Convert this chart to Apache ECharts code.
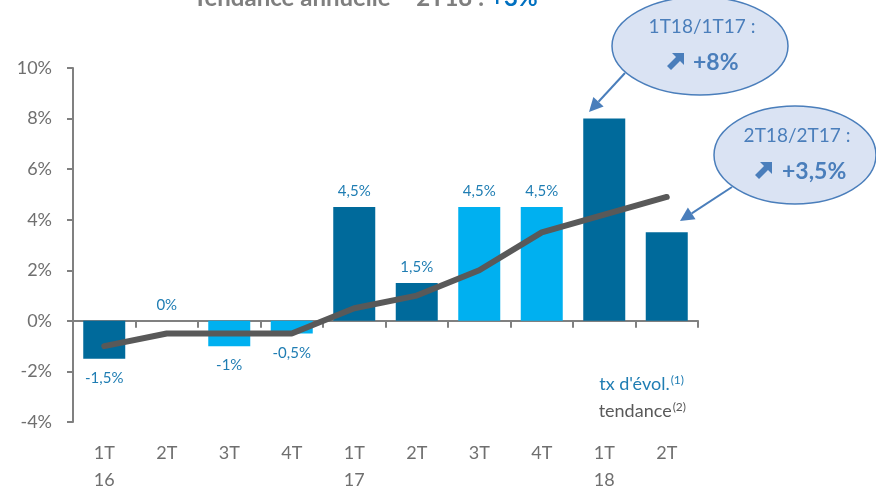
<!DOCTYPE html>
<html lang="fr">
<head>
  <meta charset="UTF-8">
  <title>tendance</title>
  <script src="https://cdn.jsdelivr.net/npm/echarts@6/dist/echarts.min.js"></script>
  <style>
    html, body { margin: 0; padding: 0; background: #fff; }
    #chart { width: 876px; height: 488px; }
  </style>
</head>
<body>
  <div id="chart"></div>
  <script>
    // trimestres
    var quarters = ['1T16', '2T16', '3T16', '4T16', '1T17', '2T17', '3T17', '4T17', '1T18', '2T18'];
    // tx d'évol. (%)
    var evolution = [-1.5, 0, -1, -0.5, 4.5, 1.5, 4.5, 4.5, 8, 3.5];
    // tendance (%)
    var tendance = [-1, -0.5, -0.5, -0.5, 0.5, 1, 2, 3.5, 4.2, 4.9];
    // teinte de chaque barre
    var tone = ['dark', 'dark', 'light', 'light', 'dark', 'dark', 'light', 'light', 'dark', 'dark'];
    // barres avec étiquette
    var labelled = [true, true, true, true, true, true, true, true, false, false];
    var yTicks = [-4, -2, 0, 2, 4, 6, 8, 10];

    var DARK = '#006a9b';
    var LIGHT = '#00b0f0';
    var LABEL = '#1f7db3';
    var GREY = '#6f6f6f';
    var CALLOUT = '#4a7ebb';
    var FONT = 'Lato, "Open Sans", sans-serif';

    function pct(v) {
      return String(v).replace('.', ',') + '%';
    }

    var barData = evolution.map(function (v, i) {
      return {
        value: v,
        itemStyle: { color: tone[i] === 'dark' ? DARK : LIGHT },
        label: {
          show: labelled[i],
          position: v < 0 ? 'bottom' : 'top',
          distance: v < 0 ? 12 : 8
        }
      };
    });

    // flèche d'une bulle vers sa barre
    function arrow(x1, y1, x2, y2) {
      var dx = x2 - x1, dy = y2 - y1;
      var len = Math.sqrt(dx * dx + dy * dy);
      var ux = dx / len, uy = dy / len;
      var bx = x2 - ux * 14, by = y2 - uy * 14;
      return [{
        type: 'line',
        shape: { x1: x1, y1: y1, x2: bx, y2: by },
        style: { stroke: CALLOUT, lineWidth: 2 }
      }, {
        type: 'polygon',
        shape: { points: [[x2, y2], [bx - uy * 7, by + ux * 7], [bx + uy * 7, by - ux * 7]] },
        style: { fill: CALLOUT }
      }];
    }

    // petite flèche épaisse vers le haut à droite
    function upIcon(x, y) {
      var s = 9;
      return {
        type: 'polygon',
        shape: {
          points: [
            [x + s, y - s], [x + s, y + 3], [x + 5, y - 1], [x - 4, y + 8],
            [x - 8, y + 4], [x + 1, y - 5], [x - 3, y - s]
          ]
        },
        style: { fill: CALLOUT }
      };
    }

    function bubble(cx, cy, rx, ry, head, value, iconX, valueX) {
      return [{
        type: 'ellipse',
        shape: { cx: cx, cy: cy, rx: rx, ry: ry },
        style: { fill: '#dae3f3', stroke: CALLOUT, lineWidth: 1.5 }
      }, {
        type: 'text',
        style: {
          x: cx + 2, y: cy - 19, text: head, align: 'center', verticalAlign: 'middle',
          font: '19px ' + FONT, fill: CALLOUT
        }
      }, upIcon(iconX, cy + 16), {
        type: 'text',
        style: {
          x: valueX, y: cy + 17, text: value, align: 'left', verticalAlign: 'middle',
          font: 'bold 23px ' + FONT, fill: CALLOUT
        }
      }];
    }

    var graphics = []
      .concat(bubble(700, 46, 88, 49, '1T18/1T17 :', '+8%', 675, 693))
      .concat(arrow(625, 73, 589, 112))
      .concat(bubble(795, 155, 81, 49, '2T18/2T17 :', '+3,5%', 763, 782))
      .concat(arrow(732, 187, 680, 221))
      .concat([{
        type: 'text',
        style: {
          x: 193, y: 10, verticalAlign: 'bottom',
          text: '{t|Tendance annuelle – 2T18 : }{b|+3%}',
          rich: {
            t: { fontSize: 24, fontWeight: 'bold', fontFamily: FONT, fill: '#7f7f7f' },
            b: { fontSize: 24, fontWeight: 'bold', fontFamily: FONT, fill: '#0070c0' }
          }
        }
      }, {
        type: 'text',
        style: {
          x: 684, y: 384, align: 'right', verticalAlign: 'middle',
          text: "{a|tx d'évol.}{s|(1)}",
          rich: {
            a: { fontSize: 18, fontFamily: FONT, fill: LABEL },
            s: { fontSize: 12, fontFamily: FONT, fill: LABEL, verticalAlign: 'top', padding: [0, 0, 8, 1] }
          }
        }
      }, {
        type: 'text',
        style: {
          x: 686, y: 411, align: 'right', verticalAlign: 'middle',
          text: '{a|tendance}{s|(2)}',
          rich: {
            a: { fontSize: 18, fontFamily: FONT, fill: '#595959' },
            s: { fontSize: 12, fontFamily: FONT, fill: '#595959', verticalAlign: 'top', padding: [0, 0, 8, 1] }
          }
        }
      }]);

    var option = {
      animation: false,
      textStyle: { fontFamily: FONT },
      grid: { left: 73, right: 178, top: 68, bottom: 66, containLabel: false, outerBoundsMode: 'none' },
      xAxis: [{
        // axe au zéro : ligne et graduations
        type: 'category',
        data: quarters,
        boundaryGap: true,
        axisLine: { onZero: true, lineStyle: { color: '#808080', width: 2 } },
        axisTick: { show: true, length: 7, lineStyle: { color: '#808080', width: 2 } },
        axisLabel: { show: false }
      }, {
        // libellés en bas
        type: 'category',
        data: quarters,
        position: 'bottom',
        boundaryGap: true,
        axisLine: { show: false, onZero: false },
        axisTick: { show: false },
        axisLabel: {
          margin: 18,
          fontSize: 18,
          lineHeight: 27,
          color: GREY,
          interval: 0,
          formatter: function (q) {
            return q.charAt(0) === '1' ? q.slice(0, 2) + '\n' + q.slice(2) : q.slice(0, 2);
          }
        }
      }],
      yAxis: {
        type: 'value',
        min: yTicks[0],
        max: yTicks[yTicks.length - 1],
        interval: 2,
        splitLine: { show: false },
        axisLine: { show: true, lineStyle: { color: '#808080', width: 2 } },
        axisTick: { show: true, length: 6, lineStyle: { color: '#808080', width: 2 } },
        axisLabel: {
          margin: 21,
          fontSize: 18,
          color: GREY,
          formatter: function (v) { return v + '%'; }
        }
      },
      series: [{
        type: 'bar',
        data: barData,
        barWidth: 42,
        label: {
          fontSize: 15,
          color: LABEL,
          formatter: function (p) { return pct(p.value); }
        },
        z: 2
      }, {
        type: 'line',
        data: tendance,
        symbol: 'none',
        lineStyle: { color: '#595959', width: 6, cap: 'round' },
        z: 3
      }],
      graphic: graphics
    };

    echarts.init(document.getElementById('chart')).setOption(option);
  </script>
</body>
</html>
